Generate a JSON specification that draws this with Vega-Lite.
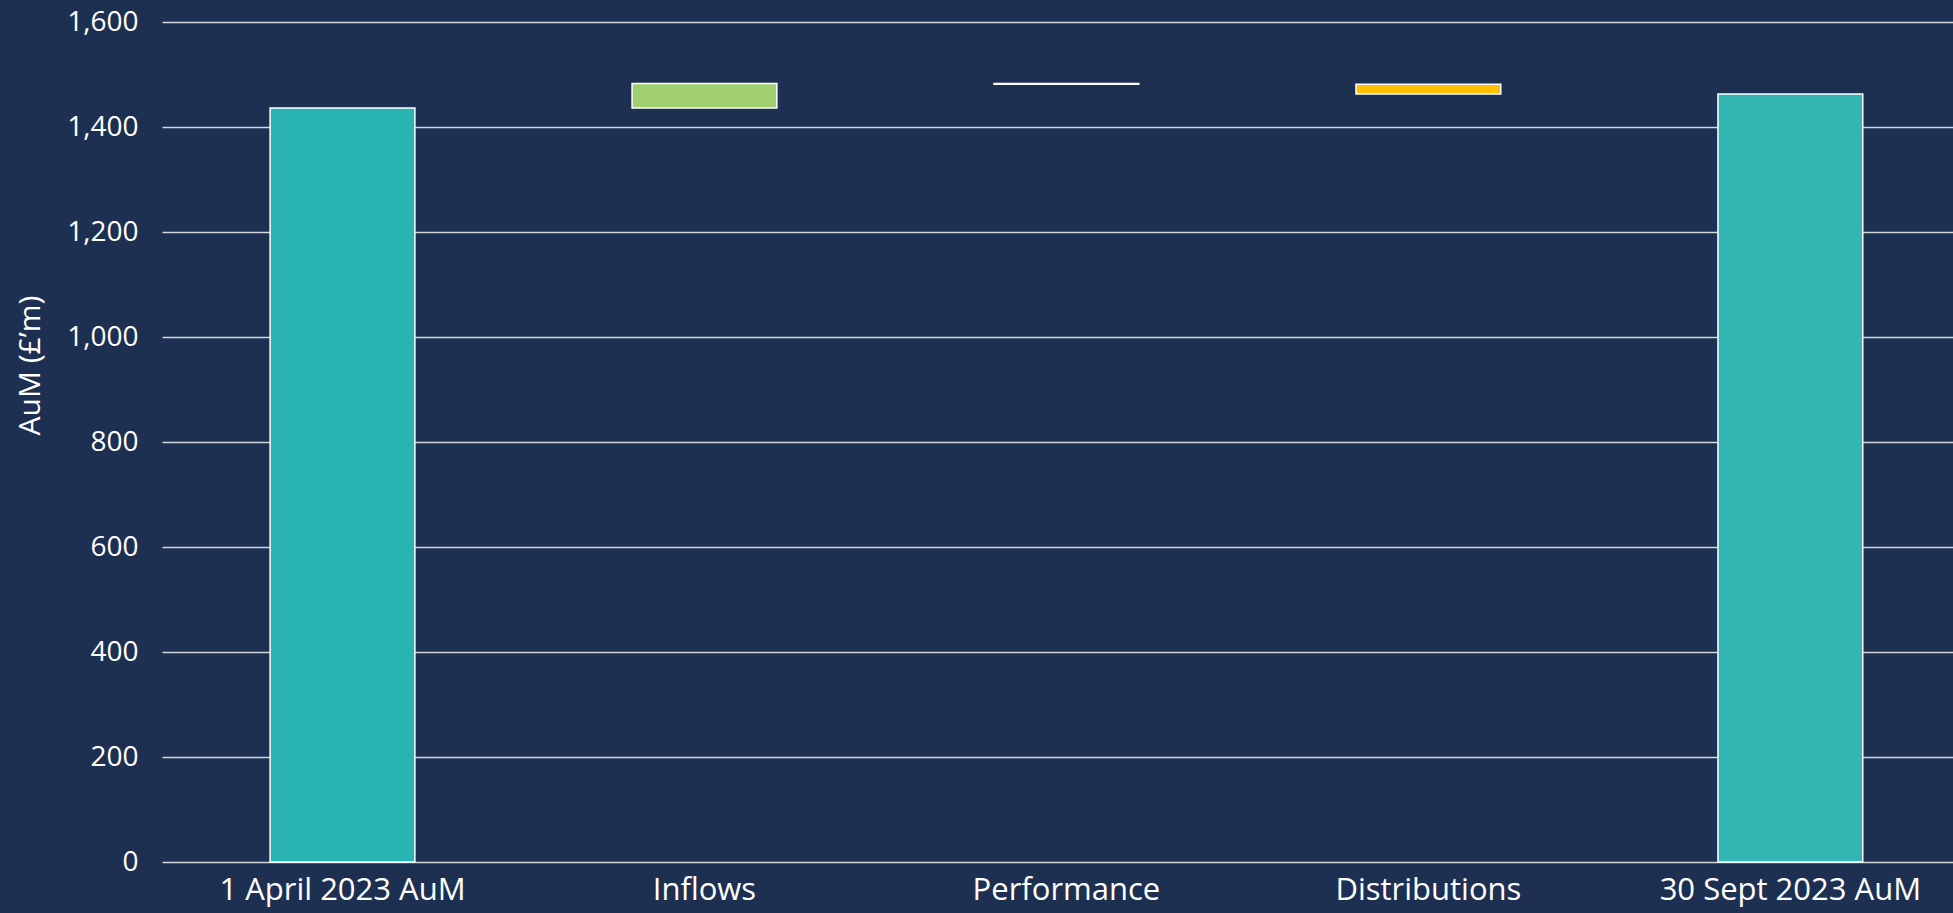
{
  "$schema": "https://vega.github.io/schema/vega-lite/v6.json",
  "width": 1791,
  "height": 840,
  "autosize": {"type": "none"},
  "padding": {"left": 162, "top": 22, "right": 0, "bottom": 51},
  "background": "#1E3052",
  "config": {
    "view": {"stroke": null},
    "font": "Open Sans"
  },
  "data": {
    "values": [
      {"label": "1 April 2023 AuM", "start": 0, "end": 1436, "kind": "open"},
      {"label": "Inflows", "start": 1436, "end": 1483, "kind": "inflow"},
      {"label": "Performance", "start": 1483, "end": 1481.5, "kind": "performance"},
      {"label": "Distributions", "start": 1481.5, "end": 1463, "kind": "distribution"},
      {"label": "30 Sept 2023 AuM", "start": 0, "end": 1463, "kind": "close"}
    ]
  },
  "mark": {"type": "bar", "stroke": "#FFFFFF", "strokeWidth": 1.5},
  "encoding": {
    "x": {
      "field": "label",
      "type": "nominal",
      "sort": null,
      "scale": {"paddingInner": 0.6, "paddingOuter": 0.274, "align": 0.545},
      "axis": {
        "title": null,
        "labelAngle": 0,
        "labelColor": "#FFFFFF",
        "labelFontSize": 31,
        "labelPadding": 13,
        "labelLimit": 0,
        "domain": false,
        "ticks": false,
        "grid": false
      }
    },
    "y": {
      "field": "start",
      "type": "quantitative",
      "scale": {"domain": [0, 1600], "nice": false, "zero": true},
      "axis": {
        "title": "AuM (£’m)",
        "titleColor": "#FFFFFF",
        "titleFontSize": 30,
        "titleFontWeight": "normal",
        "titleAngle": -90,
        "titleAnchor": null,
        "titleX": -132,
        "titleY": 343,
        "titleAlign": "center",
        "titleBaseline": "middle",
        "values": [0, 200, 400, 600, 800, 1000, 1200, 1400, 1600],
        "format": ",.0f",
        "labelColor": "#FFFFFF",
        "labelFontSize": 28,
        "labelPadding": 24,
        "domain": false,
        "ticks": false,
        "grid": true,
        "gridColor": "#D4D6DC",
        "gridWidth": 1.5
      }
    },
    "y2": {"field": "end"},
    "fill": {
      "field": "kind",
      "type": "nominal",
      "scale": {
        "domain": ["open", "inflow", "performance", "distribution", "close"],
        "range": ["#2AB3B3", "#9FCF6E", "#FFFFFF", "#FFC000", "#33B5B3"]
      },
      "legend": null
    }
  }
}
